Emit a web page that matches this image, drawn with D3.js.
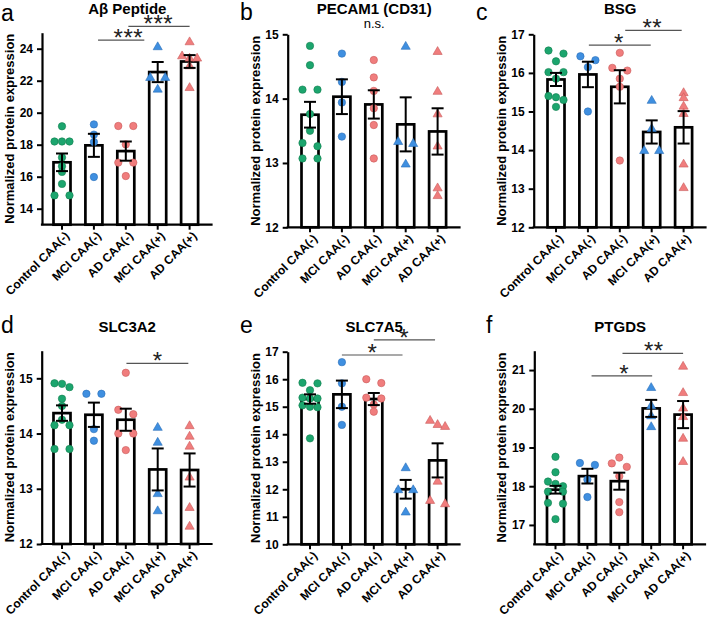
<!DOCTYPE html>
<html><head><meta charset="utf-8">
<script src="https://cdn.jsdelivr.net/npm/d3@7"></script>
<style>
body{margin:0;background:#fff}
svg{display:block}
text{font-family:"Liberation Sans", Arial, Helvetica, sans-serif}
</style>
</head><body>
<svg id="chart" width="708" height="617"></svg>
<script>
// ---------- DATA ----------
const categories = ["Control CAA(-)", "MCI CAA(-)", "AD CAA(-)", "MCI CAA(+)", "AD CAA(+)"];
const yLabel = "Normalized protein expression";

// a: Aβ Peptide
const abetaMeans = [16.9, 17.96, 17.6, 22.54, 23.2];
const abetaSems = [0.55, 0.72, 0.6, 0.63, 0.4];
const abetaPoints = [
  [19.15, 18.2, 18.2, 18.2, 17.2, 16.65, 16.3, 15.55, 14.83, 14.83],
  [19.27, 18.63, 18.17, 15.98],
  [19.17, 19.17, 18.02, 16.88, 16.88, 16.04],
  [24.15, 22.23, 22.23, 21.5],
  [24.46, 23.58, 23.44, 23.44, 22.96, 21.6]
];
const abetaTicks = [14, 16, 18, 20, 22, 24];
const abetaBrackets = [
  {from: 1.13, to: 2.58, at: 2.08, y: 24.54, label: "***"},
  {from: 2.08, to: 4.0, at: 3.02, y: 25.39, label: "***"}
];

// b: PECAM1 (CD31)
const pecamMeans = [13.75, 14.03, 13.91, 13.6, 13.49];
const pecamSems = [0.2, 0.27, 0.22, 0.42, 0.36];
const pecamPoints = [
  [14.82, 14.52, 14.14, 14.14, 13.76, 13.5, 13.31, 13.26, 13.07, 13.07],
  [14.70, 14.26, 13.94, 13.41],
  [14.6, 14.33, 14.12, 13.85, 13.59, 13.07],
  [14.82, 13.34, 13.31, 12.99],
  [14.74, 14.12, 13.77, 13.27, 12.62, 12.5]
];
const pecamTicks = [12, 13, 14, 15];
const pecamBrackets = [];

// c: BSG
const bsgMeans = [15.83, 15.96, 15.64, 14.47, 14.59];
const bsgSems = [0.17, 0.33, 0.43, 0.3, 0.42];
const bsgPoints = [
  [16.58, 16.5, 16.3, 16.02, 16.02, 15.85, 15.4, 15.37, 15.3, 15.12],
  [16.43, 16.33, 16.15, 15.0],
  [16.52, 16.13, 16.06, 15.85, 15.64, 13.73],
  [15.3, 14.57, 14.0, 14.0],
  [15.5, 15.37, 15.15, 14.96, 13.65, 13.04]
];
const bsgTicks = [12, 13, 14, 15, 16, 17];
const bsgBrackets = [
  {from: 1.03, to: 2.97, at: 1.97, y: 16.72, label: "*"},
  {from: 2.17, to: 3.94, at: 3.02, y: 17.1, label: "**"}
];

// d: SLC3A2
const slc3a2Means = [14.37, 14.34, 14.25, 13.35, 13.34];
const slc3a2Sems = [0.14, 0.22, 0.2, 0.38, 0.3];
const slc3a2Points = [
  [14.91, 14.9, 14.84, 14.63, 14.5, 14.25, 14.15, 14.15, 13.72, 13.72],
  [14.72, 14.72, 14.08, 13.87],
  [15.1, 14.43, 14.35, 14.0, 14.0, 13.7],
  [14.12, 13.85, 12.92, 12.61],
  [14.15, 13.96, 13.78, 13.22, 12.67, 12.33]
];
const slc3a2Ticks = [12, 13, 14, 15];
const slc3a2Brackets = [
  {from: 2.02, to: 3.96, at: 3.0, y: 15.27, label: "*"}
];

// e: SLC7A5
const slc7a5Means = [15.28, 15.45, 15.28, 12.0, 13.05];
const slc7a5Sems = [0.17, 0.5, 0.22, 0.34, 0.62];
const slc7a5Points = [
  [15.87, 15.85, 15.6, 15.33, 15.3, 15.3, 15.05, 15.0, 14.98, 13.85],
  [16.62, 15.85, 15.0, 14.34],
  [16.0, 15.86, 15.33, 15.3, 15.08, 14.82],
  [12.8, 12.0, 12.0, 11.19],
  [14.52, 14.37, 14.3, 12.31, 11.61, 11.49]
];
const slc7a5Ticks = [10, 11, 12, 13, 14, 15, 16, 17];
const slc7a5Brackets = [
  {from: 1.0, to: 2.9, at: 1.96, y: 16.88, label: "*"},
  {from: 2.0, to: 3.92, at: 2.95, y: 17.43, label: "*"}
];

// f: PTGDS
const ptgdsMeans = [17.91, 18.26, 18.13, 20.01, 19.85];
const ptgdsSems = [0.1, 0.19, 0.22, 0.22, 0.35];
const ptgdsPoints = [
  [18.76, 18.36, 18.12, 18.06, 18.0, 17.86, 17.86, 17.57, 17.55, 17.15],
  [18.6, 18.55, 18.17, 17.72],
  [18.74, 18.59, 18.5, 18.26, 17.59, 17.33],
  [20.56, 20.09, 19.83, 19.55],
  [21.11, 20.43, 20.03, 19.81, 19.25, 18.65]
];
const ptgdsTicks = [17, 18, 19, 20, 21];
const ptgdsBrackets = [
  {from: 1.13, to: 3.03, at: 2.15, y: 20.85, label: "*"},
  {from: 2.1, to: 4.0, at: 3.08, y: 21.43, label: "**"}
];

// ---------- STYLE / LAYOUT ----------
const groupColors = ["#1ca56e", "#3f8fe0", "#f07d7d", "#3f8fe0", "#f07d7d"];
const groupStroke = ["#12804f", "#2a6fb8", "#c95a5a", "#2a6fb8", "#c95a5a"];
const groupShapes = ["circle", "circle", "circle", "triangle", "triangle"];

const panels = [
  {letter: "a", title: "Aβ Peptide", means: abetaMeans, sems: abetaSems, points: abetaPoints,
   domain: [13, 25], ticks: abetaTicks, brackets: abetaBrackets, note: null,
   L: {x0: 42, first: 62, yTop: 32.7, yBottom: 224.7, lx: 1, ly: 21, titleY: 14}},
  {letter: "b", title: "PECAM1 (CD31)", means: pecamMeans, sems: pecamSems, points: pecamPoints,
   domain: [12, 15], ticks: pecamTicks, brackets: pecamBrackets, note: "n.s.",
   L: {x0: 287.7, first: 310, yTop: 34.3, yBottom: 227.3, lx: 240, ly: 20, titleY: 14}},
  {letter: "c", title: "BSG", means: bsgMeans, sems: bsgSems, points: bsgPoints,
   domain: [12, 17], ticks: bsgTicks, brackets: bsgBrackets, note: null,
   L: {x0: 533.7, first: 556, yTop: 34.3, yBottom: 227.3, lx: 476, ly: 20, titleY: 14}},
  {letter: "d", title: "SLC3A2", means: slc3a2Means, sems: slc3a2Sems, points: slc3a2Points,
   domain: [12, 15.5], ticks: slc3a2Ticks, brackets: slc3a2Brackets, note: null,
   L: {x0: 41.7, first: 62, yTop: 350.7, yBottom: 544, lx: 1, ly: 333, titleY: 331.7}},
  {letter: "e", title: "SLC7A5", means: slc7a5Means, sems: slc7a5Sems, points: slc7a5Points,
   domain: [10, 17], ticks: slc7a5Ticks, brackets: slc7a5Brackets, note: null,
   L: {x0: 287.7, first: 310, yTop: 351.7, yBottom: 544.3, lx: 240, ly: 333, titleY: 331.7}},
  {letter: "f", title: "PTGDS", means: ptgdsMeans, sems: ptgdsSems, points: ptgdsPoints,
   domain: [16.5, 21.5], ticks: ptgdsTicks, brackets: ptgdsBrackets, note: null,
   L: {x0: 534.3, first: 555.5, yTop: 350.7, yBottom: 544.3, lx: 486, ly: 333, titleY: 331.7}}
];

const svg = d3.select("#chart");
svg.append("rect").attr("width", 708).attr("height", 617).attr("fill", "#fff");

const STEP = 31.9, BAR_W = 17, CAP = 12;

function layoutPoints(values, y) {
  const items = values.map((v, i) => ({v, py: y(v), i}));
  items.sort((a, b) => a.py - b.py);
  const clusters = [];
  let cur = [];
  items.forEach(it => {
    if (cur.length && it.py - cur[cur.length - 1].py >= 5) { clusters.push(cur); cur = []; }
    cur.push(it);
  });
  if (cur.length) clusters.push(cur);
  clusters.forEach(c => {
    const n = c.length;
    c.forEach((it, k) => { it.dx = n === 2 ? (k === 0 ? -7.5 : 7.5) : (k - (n - 1) / 2) * 7.5; });
  });
  return items;
}

panels.forEach(p => {
  const L = p.L;
  const g = svg.append("g");
  const x = d3.scalePoint().domain(categories).range([L.first, L.first + 4 * STEP]);
  const xi = d3.scaleLinear().domain([0, 4]).range([L.first, L.first + 4 * STEP]);
  const y = d3.scaleLinear().domain(p.domain).range([L.yBottom, L.yTop]);
  const xEnd = L.first + 4 * STEP + 23;
  const midX = (L.x0 + xEnd) / 2;

  // panel letter
  g.append("text").attr("x", L.lx).attr("y", L.ly).attr("font-size", 23).attr("fill", "#000").text(p.letter);
  // title
  g.append("text").attr("x", midX).attr("y", L.titleY).attr("text-anchor", "middle")
    .attr("font-size", 15).attr("font-weight", "bold").text(p.title);
  if (p.note) {
    g.append("text").attr("x", midX).attr("y", L.titleY + 14).attr("text-anchor", "middle")
      .attr("font-size", 13).text(p.note);
  }

  // bars
  g.selectAll("rect.bar").data(p.means).join("rect").attr("class", "bar")
    .attr("x", (d, i) => x(categories[i]) - BAR_W / 2)
    .attr("width", BAR_W)
    .attr("y", d => y(d))
    .attr("height", d => L.yBottom - y(d))
    .attr("fill", "#fff").attr("stroke", "#000").attr("stroke-width", 2.7);

  // points
  p.points.forEach((vals, gi) => {
    const cx = x(categories[gi]);
    const items = layoutPoints(vals, y);
    const sel = g.selectAll(null).data(items);
    if (groupShapes[gi] === "circle") {
      sel.join("circle").attr("cx", d => cx + d.dx).attr("cy", d => d.py).attr("r", 3.7)
        .attr("fill", groupColors[gi]).attr("stroke", groupStroke[gi]).attr("stroke-width", 0.6);
    } else {
      const sym = d3.symbol().type(d3.symbolTriangle).size(36);
      sel.join("path").attr("d", sym)
        .attr("transform", d => `translate(${cx + d.dx},${d.py + 0.8})`)
        .attr("fill", groupColors[gi]).attr("stroke", groupStroke[gi]).attr("stroke-width", 0.6);
    }
  });

  // error bars
  p.means.forEach((m, i) => {
    const cx = x(categories[i]);
    const s = p.sems[i];
    const eg = g.append("g").attr("stroke", "#000").attr("stroke-width", 2);
    eg.append("line").attr("x1", cx).attr("x2", cx).attr("y1", y(m - s)).attr("y2", y(m + s));
    eg.append("line").attr("x1", cx - CAP / 2).attr("x2", cx + CAP / 2).attr("y1", y(m + s)).attr("y2", y(m + s));
    eg.append("line").attr("x1", cx - CAP / 2).attr("x2", cx + CAP / 2).attr("y1", y(m - s)).attr("y2", y(m - s));
  });

  // y axis
  const ya = g.append("g").attr("transform", `translate(${L.x0},0)`)
    .call(d3.axisLeft(y).tickValues(p.ticks).tickSize(5).tickSizeOuter(0).tickFormat(d3.format("d")));
  ya.select(".domain").attr("stroke-width", 2.2).attr("stroke", "#000");
  ya.selectAll(".tick line").attr("stroke-width", 2).attr("stroke", "#000");
  ya.selectAll(".tick text").attr("font-size", 12).attr("font-weight", "bold")
    .attr("font-family", '"Liberation Sans", Arial, sans-serif').attr("fill", "#000").attr("dx", "-1");

  // x axis
  g.append("line").attr("x1", L.x0 - 1.1).attr("x2", xEnd).attr("y1", L.yBottom).attr("y2", L.yBottom)
    .attr("stroke", "#000").attr("stroke-width", 2.2);
  categories.forEach(c => {
    const cx = x(c);
    g.append("line").attr("x1", cx).attr("x2", cx).attr("y1", L.yBottom).attr("y2", L.yBottom + 5)
      .attr("stroke", "#000").attr("stroke-width", 2);
    g.append("text").attr("text-anchor", "end").attr("font-size", 12).attr("font-weight", "bold")
      .attr("transform", `translate(${cx + 8},${L.yBottom + 12}) rotate(-45)`).text(c);
  });

  // y label
  g.append("text").attr("text-anchor", "middle").attr("font-size", 13).attr("font-weight", "bold")
    .attr("transform", `translate(${L.x0 - 28},${(L.yTop + L.yBottom) / 2}) rotate(-90)`).text(yLabel);

  // significance brackets
  p.brackets.forEach(b => {
    g.append("line").attr("x1", xi(b.from)).attr("x2", xi(b.to)).attr("y1", y(b.y)).attr("y2", y(b.y))
      .attr("stroke", "#555").attr("stroke-width", 1.2);
    g.append("text").attr("x", xi(b.at)).attr("y", y(b.y) + 6).attr("text-anchor", "middle")
      .attr("font-size", 24).attr("letter-spacing", "0.5px").attr("fill", "#222").text(b.label);
  });
});
</script>
</body></html>
